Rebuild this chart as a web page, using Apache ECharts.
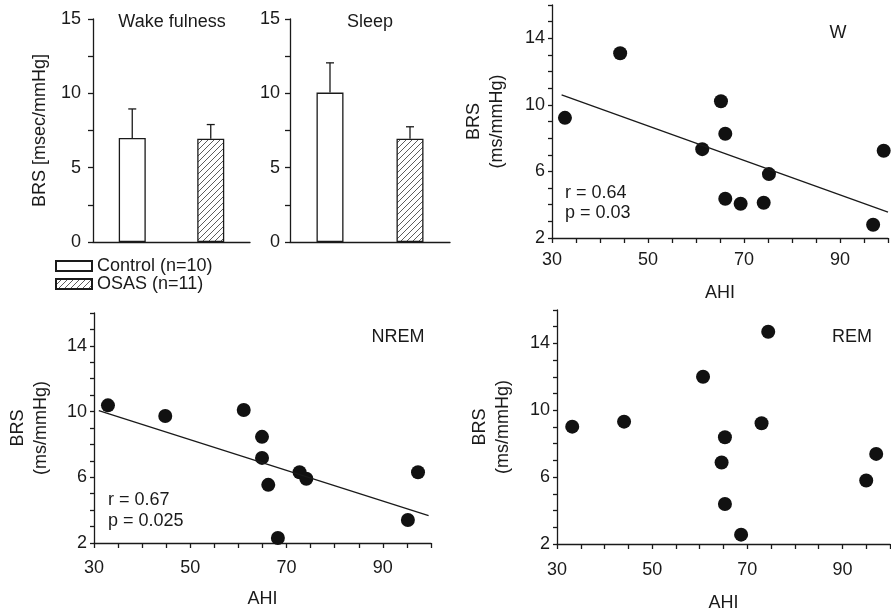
<!DOCTYPE html>
<html>
<head>
<meta charset="utf-8">
<script src="https://cdn.jsdelivr.net/npm/echarts@6/dist/echarts.min.js"></script>
<style>html,body{margin:0;padding:0;background:#fff}#chart{width:891px;height:610px}</style>
</head>
<body>
<div id="chart"></div>
<script>
// bar panels: mean and upper SD
var groups = ['Control (n=10)', 'OSAS (n=11)'];
var wakeMean = [7.0, 6.95];
var wakeSd = [1.95, 0.95];
var sleepMean = [10.05, 6.95];
var sleepSd = [2.0, 0.8];
var barTicks = [0, 5, 10, 15];

// scatter panels
var ahiTicks = [30, 50, 70, 90];
var brsTicks = [2, 6, 10, 14];

var wAhi = [32.7, 44.2, 65.2, 66.1, 61.3, 75.2, 66.1, 69.3, 74.1, 96.9, 99.1];
var wBrs = [9.22, 13.1, 10.22, 8.26, 7.34, 5.84, 4.36, 4.06, 4.12, 2.8, 7.24];
var wFitX = [32, 100];
var wFitY = [10.6, 3.56];

var nremAhi = [32.9, 44.8, 61.1, 64.9, 64.9, 66.2, 68.2, 72.7, 74.1, 95.2, 97.3];
var nremBrs = [10.38, 9.73, 10.1, 8.46, 7.18, 5.54, 2.3, 6.31, 5.91, 3.4, 6.31];
var nremFitX = [31, 99.5];
var nremFitY = [10.06, 3.66];

var remAhi = [33.2, 44.1, 60.7, 74.4, 73.0, 65.3, 64.6, 65.3, 68.7, 95.0, 97.1];
var remBrs = [9.02, 9.32, 12.01, 14.7, 9.22, 8.39, 6.88, 4.39, 2.56, 5.8, 7.39];

var FONT = 'Arial, "Liberation Sans", sans-serif';
var FS = 18;
var INK = '#1a1a1a';
var txt = {fontFamily: FONT, fontSize: FS, color: INK};
var axLine = {show: true, lineStyle: {color: INK, width: 1.3}};
var axTick = {show: true, length: 5, lineStyle: {color: INK, width: 1.3}};

function hatch() {
    var c = document.createElement('canvas');
    c.width = 6; c.height = 6;
    var g = c.getContext('2d');
    g.fillStyle = '#fff';
    g.fillRect(0, 0, 6, 6);
    g.strokeStyle = '#333';
    g.lineWidth = 0.8;
    g.beginPath();
    g.moveTo(0, 6); g.lineTo(6, 0);
    g.moveTo(-1, 1); g.lineTo(1, -1);
    g.moveTo(5, 7); g.lineTo(7, 5);
    g.stroke();
    return c;
}
var pat = {image: hatch(), repeat: 'repeat'};

function pick(list) {
    return function (v) { return list.indexOf(v) >= 0 ? String(v) : ''; };
}
function zip(a, b) {
    return a.map(function (v, i) { return [v, b[i]]; });
}

function barSeries(idx, means) {
    return [0, 1].map(function (k) {
        return {
            name: groups[k], type: 'bar', xAxisIndex: idx, yAxisIndex: idx,
            data: means.map(function (v, i) { return i === k ? v : '-'; }),
            barWidth: 27, barGap: '-100%', silent: true,
            itemStyle: {color: k === 0 ? '#fff' : pat, borderColor: INK, borderWidth: 1.3}
        };
    });
}

function errSeries(idx, means, sds) {
    return {
        type: 'custom', xAxisIndex: idx, yAxisIndex: idx, silent: true, z: 3,
        data: means.map(function (m, i) { return [i, m, m + sds[i]]; }),
        renderItem: function (params, api) {
            var lo = api.coord([api.value(0), api.value(1)]);
            var hi = api.coord([api.value(0), api.value(2)]);
            var st = {stroke: INK, lineWidth: 1.3};
            return {type: 'group', children: [
                {type: 'line', shape: {x1: lo[0], y1: lo[1], x2: hi[0], y2: hi[1]}, style: st},
                {type: 'line', shape: {x1: hi[0] - 4, y1: hi[1], x2: hi[0] + 4, y2: hi[1]}, style: st}
            ]};
        }
    };
}

function catX(idx) {
    return {
        type: 'category', gridIndex: idx, data: groups,
        axisLine: axLine, axisTick: {show: false}, axisLabel: {show: false}
    };
}
function barY(idx, withName) {
    return {
        type: 'value', gridIndex: idx, min: 0, max: 15, interval: 2.5,
        name: withName ? 'BRS [msec/mmHg]' : '', nameLocation: 'middle', nameGap: 44,
        nameTextStyle: txt,
        axisLine: axLine, axisTick: axTick, splitLine: {show: false},
        axisLabel: {margin: withName ? 12 : 10, formatter: pick(barTicks), fontFamily: FONT, fontSize: FS, color: INK}
    };
}
function ahiX(idx, margin, gap) {
    return {
        type: 'value', gridIndex: idx, min: 30, max: 100, interval: 5,
        name: 'AHI', nameLocation: 'middle', nameGap: gap, nameTextStyle: txt,
        axisLine: axLine, axisTick: axTick, splitLine: {show: false},
        axisLabel: {margin: margin, formatter: pick(ahiTicks), fontFamily: FONT, fontSize: FS, color: INK}
    };
}
function brsY(idx, gap) {
    return {
        type: 'value', gridIndex: idx, min: 2, max: 16, interval: 1,
        name: 'BRS\n(ms/mmHg)', nameLocation: 'middle', nameGap: gap,
        nameTextStyle: {fontFamily: FONT, fontSize: FS, color: INK, lineHeight: 23},
        axisLine: axLine, axisTick: {show: true, length: 4, lineStyle: {color: INK, width: 1.3}},
        splitLine: {show: false},
        axisLabel: {margin: 7, formatter: pick(brsTicks), fontFamily: FONT, fontSize: FS, color: INK}
    };
}
function dots(idx, xs, ys) {
    return {
        type: 'scatter', xAxisIndex: idx, yAxisIndex: idx, silent: true,
        data: zip(xs, ys), symbolSize: 14, itemStyle: {color: '#111', opacity: 1}
    };
}
function fit(idx, xs, ys) {
    return {
        type: 'line', xAxisIndex: idx, yAxisIndex: idx, silent: true,
        data: zip(xs, ys), showSymbol: false, lineStyle: {color: INK, width: 1.3}
    };
}
function label(text, x, y, align) {
    return {
        type: 'text', x: x, y: y, silent: true,
        style: {text: text, fill: INK, font: FS + 'px ' + FONT, align: align || 'left', verticalAlign: 'middle'}
    };
}

var myChart = echarts.init(document.getElementById('chart'));
var grid = function (l, t, w, h) {
    return {left: l, top: t, width: w, height: h, containLabel: false, outerBoundsMode: 'none'};
};

var option = {
    animation: false,
    grid: [
        grid(93, 19, 157, 223),
        grid(290, 19, 160, 223),
        grid(552, 5, 336, 233),
        grid(94, 313, 337, 230),
        grid(557, 310, 333, 234)
    ],
    xAxis: [catX(0), catX(1), ahiX(2, 13, 46), ahiX(3, 16, 47), ahiX(4, 17, 50)],
    yAxis: [barY(0, true), barY(1, false), brsY(2, 43), brsY(3, 41), brsY(4, 42)],
    legend: {
        data: groups, orient: 'vertical', left: 55, top: 257, padding: 0,
        itemWidth: 36, itemHeight: 10, itemGap: 0, icon: 'rect',
        selectedMode: false,
        textStyle: {fontFamily: FONT, fontSize: FS, color: INK, lineHeight: 17}
    },
    graphic: [
        label('Wake fulness', 172, 22, 'center'),
        label('Sleep', 370, 22, 'center'),
        label('W', 838, 33, 'center'),
        label('r = 0.64', 565, 193),
        label('p = 0.03', 565, 213),
        label('NREM', 398, 337, 'center'),
        label('r = 0.67', 108, 500),
        label('p = 0.025', 108, 521),
        label('REM', 852, 337, 'center')
    ],
    series: [].concat(
        barSeries(0, wakeMean), [errSeries(0, wakeMean, wakeSd)],
        barSeries(1, sleepMean), [errSeries(1, sleepMean, sleepSd)],
        [fit(2, wFitX, wFitY), dots(2, wAhi, wBrs)],
        [fit(3, nremFitX, nremFitY), dots(3, nremAhi, nremBrs)],
        [dots(4, remAhi, remBrs)]
    )
};

myChart.setOption(option);
</script>
</body>
</html>
